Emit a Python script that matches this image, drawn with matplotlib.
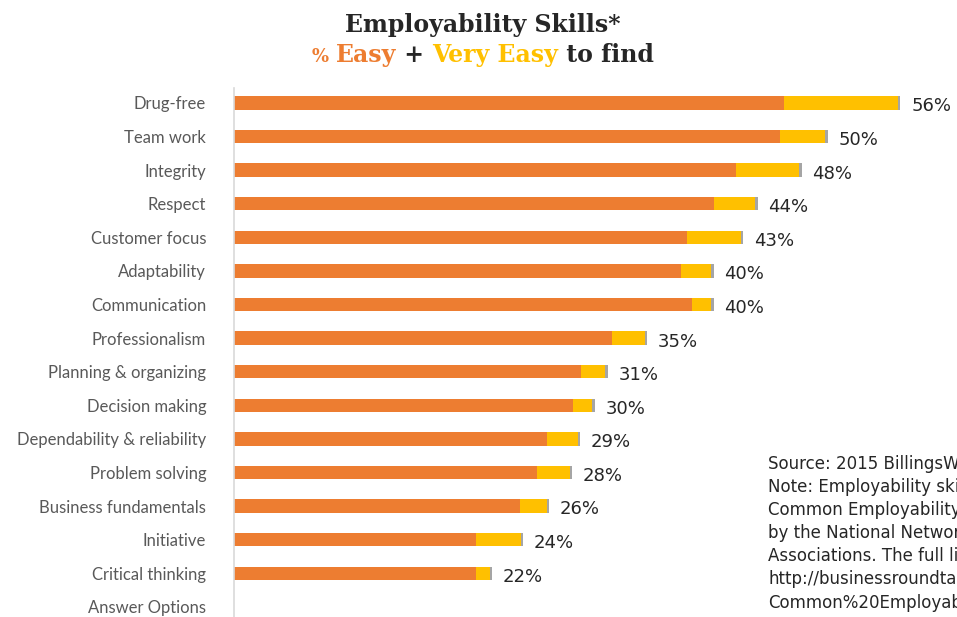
import matplotlib.pyplot as plt
from matplotlib.offsetbox import TextArea, HPacker, AnchoredOffsetbox

# Data (percent of respondents)
skills = ['Drug-free', 'Team work', 'Integrity', 'Respect', 'Customer focus',
          'Adaptability', 'Communication', 'Professionalism', 'Planning & organizing',
          'Decision making', 'Dependability & reliability', 'Problem solving',
          'Business fundamentals', 'Initiative', 'Critical thinking', 'Answer Options']
easy = [46.2, 45.9, 42.2, 40.3, 38.1, 37.6, 38.5, 31.8, 29.2, 28.5, 26.3, 25.5, 24.0, 20.3, 20.3, 0]
very_easy = [9.6, 3.8, 5.3, 3.5, 4.5, 2.5, 1.6, 2.7, 2.0, 1.6, 2.6, 2.7, 2.3, 3.8, 1.2, 0]
end_mark = [0.2] * 15 + [0]
totals = ['56%', '50%', '48%', '44%', '43%', '40%', '40%', '35%', '31%',
          '30%', '29%', '28%', '26%', '24%', '22%', '']

ORANGE = '#ED7D31'
YELLOW = '#FFC000'
GREY = '#A5A5A5'

fig = plt.figure(figsize=(9.57, 6.17), dpi=100)
ax = fig.add_axes([234 / 957, 0, 1 - 234 / 957, 1 - 88 / 617])

y = list(range(len(skills)))
h = 0.4
ax.barh(y, easy, height=h, color=ORANGE)
ax.barh(y, very_easy, left=easy, height=h, color=YELLOW)
left3 = [a + b for a, b in zip(easy, very_easy)]
ax.barh(y, end_mark, left=left3, height=h, color=GREY)

for i, lab in enumerate(totals):
    if lab:
        ax.text(left3[i] + end_mark[i] + 0.9, i + 0.1, lab, va='center', ha='left',
                fontsize=13, color='#262626', family='DejaVu Sans', clip_on=False)

ax.set_xlim(0, 723 / 11.9)
ax.set_ylim(15.3, -0.446)
ax.set_yticks(y)
ax.set_yticklabels(skills, fontsize=12, color='#595959', family='Lato')
ax.tick_params(axis='y', length=0, pad=20)
ax.set_xticks([])
for s in ['top', 'right', 'bottom']:
    ax.spines[s].set_visible(False)
ax.spines['left'].set_color('#D9D9D9')
ax.spines['left'].set_linewidth(1.2)

# title
fig.text(483 / 957, 1 - 25 / 617, 'Employability Skills*', ha='center', va='center',
         fontsize=17, fontweight='bold', color='#262626', family='DejaVu Serif')
parts = [('% ', ORANGE, 13), ('Easy', ORANGE, 17), (' + ', '#262626', 17),
         ('Very Easy', YELLOW, 17), (' to find', '#262626', 17)]
boxes = [TextArea(t, textprops=dict(color=c, fontsize=fs, fontweight='bold',
                                    family='DejaVu Serif')) for t, c, fs in parts]
pack = HPacker(children=boxes, align='baseline', pad=0, sep=0)
anch = AnchoredOffsetbox(loc='center', child=pack, frameon=False,
                         bbox_to_anchor=(483 / 957, 1 - 55 / 617),
                         bbox_transform=fig.transFigure, borderpad=0, pad=0)
fig.add_artist(anch)

# note (cut off at the right edge, as in the original slide)
note = ('Source: 2015 BillingsWorks Survey\n'
        'Note: Employability skills are from the\n'
        'Common Employability Skills framework\n'
        'by the National Network of Business and Industry\n'
        'Associations. The full list is available at\n'
        'http://businessroundtable.org/sites/default/files/\n'
        'Common%20Employability_asingle_fm.pdf')
fig.text(768 / 957, 1 - 455 / 617, note, ha='left', va='top', fontsize=12,
         color='#262626', family='DejaVu Sans', linespacing=1.36)

fig.savefig('out.png', dpi=100)
